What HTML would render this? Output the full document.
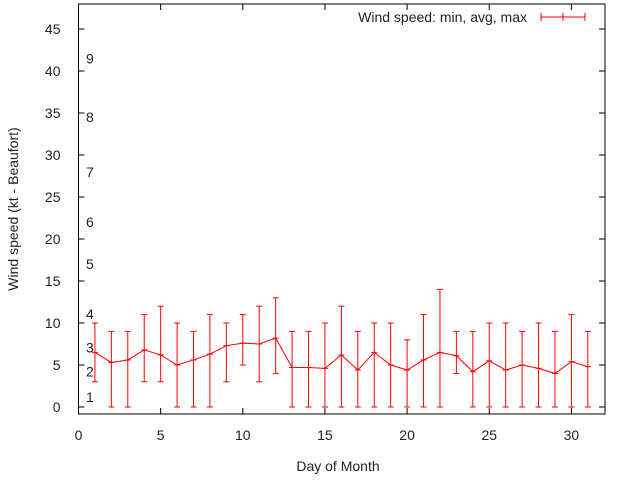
<!DOCTYPE html>
<html><head><meta charset="utf-8"><style>
body{margin:0;background:#fff}
svg text{font-family:"Liberation Sans",sans-serif;font-size:14px;fill:#222}
</style></head><body>
<svg id="chart" width="640" height="480" xmlns="http://www.w3.org/2000/svg">
<rect width="640" height="480" fill="#fff"/>
<g id="axes"></g><g id="marks"></g>
<text x="338" y="471" text-anchor="middle">Day of Month</text>
<text transform="translate(18,209) rotate(-90)" text-anchor="middle">Wind speed (kt - Beaufort)</text>
<g>
<text x="527" y="22" text-anchor="end">Wind speed: min, avg, max</text>
<line x1="541" y1="17" x2="585" y2="17" stroke="#f00"/>
<line x1="541" y1="13" x2="541" y2="21" stroke="#f00"/>
<line x1="563" y1="13" x2="563" y2="21" stroke="#f00"/>
<line x1="585" y1="13" x2="585" y2="21" stroke="#f00"/>
</g>
</svg>
<script>
const days=[1,2,3,4,5,6,7,8,9,10,11,12,13,14,15,16,17,18,19,20,21,22,23,24,25,26,27,28,29,30,31];
const avgVals=[6.5,5.3,5.6,6.8,6.2,5,5.6,6.3,7.3,7.6,7.5,8.2,4.7,4.7,4.6,6.2,4.4,6.5,5,4.4,5.6,6.5,6.1,4.2,5.5,4.4,5,4.6,4,5.4,4.8];
const minVals=[3,0,0,3,3,0,0,0,3,5,3,4,0,0,0,0,0,0,0,0,0,0,4,0,0,0,0,0,0,0,0];
const maxVals=[10,9,9,11,12,10,9,11,10,11,12,13,9,9,10,12,9,10,10,8,11,14,9,9,10,10,9,10,9,11,9];
const xTicks=[0,5,10,15,20,25,30];
const yTicks=[0,5,10,15,20,25,30,35,40,45];
const beaufortLabels=["1","2","3","4","5","6","7","8","9"];
const beaufortPos=[1.2,4.2,7.1,11.1,17,22,28,34.5,41.5];
const L=78.5,R=605,T=4,B=414;
const X=v=>L+v*16.43, Y=v=>407-v*8.4;
const NS="http://www.w3.org/2000/svg";
const ax=document.getElementById('axes'), mk=document.getElementById('marks');
function el(p,tag,attrs){const e=document.createElementNS(NS,tag);for(const k in attrs)e.setAttribute(k,attrs[k]);p.appendChild(e);return e;}
const frame=el(ax,'rect',{x:L,y:T,width:R-L,height:B-T,fill:'none',stroke:'#000'});


xTicks.forEach(v=>{
 el(ax,'line',{x1:X(v),y1:B,x2:X(v),y2:B-6,stroke:'#000'});
 el(ax,'line',{x1:X(v),y1:T,x2:X(v),y2:T+6,stroke:'#000'});
 const t=el(ax,'text',{x:X(v),y:B+28-2,'text-anchor':'middle'});t.textContent=v;
 
 
});
yTicks.forEach(v=>{
 el(ax,'line',{x1:L,y1:Y(v),x2:L+6,y2:Y(v),stroke:'#000'});
 el(ax,'line',{x1:R,y1:Y(v),x2:R-6,y2:Y(v),stroke:'#000'});
 const t=el(ax,'text',{x:L-18,y:Y(v)+5,'text-anchor':'end'});t.textContent=v;
 
 
});
beaufortLabels.forEach((s,i)=>{
 const t=el(ax,'text',{x:86,y:Y(beaufortPos[i])+5});t.textContent=s;
 
 
});
days.forEach((d,i)=>{
 const g=el(mk,'g',{stroke:'#f00','stroke-width':1});
 
 
 const x=X(d);
 el(g,'line',{x1:x,y1:Y(minVals[i]),x2:x,y2:Y(maxVals[i])});
 el(g,'line',{x1:x-3,y1:Y(minVals[i]),x2:x+3,y2:Y(minVals[i])});
 el(g,'line',{x1:x-3,y1:Y(maxVals[i]),x2:x+3,y2:Y(maxVals[i])});
 el(g,'line',{x1:x-3,y1:Y(avgVals[i]),x2:x+3,y2:Y(avgVals[i])});
});
const line=el(mk,'polyline',{points:days.map((d,i)=>X(d)+','+Y(avgVals[i])).join(' '),fill:'none',stroke:'#f00'});


</script>
</body></html>
